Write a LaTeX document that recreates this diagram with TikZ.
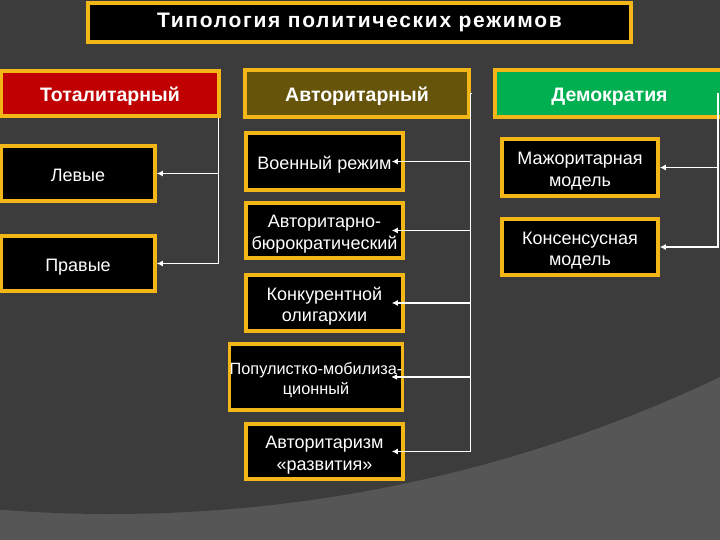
\documentclass[tikz,border=0pt]{standalone}
\usepackage{fontspec}
\setmainfont{Liberation Sans}
\newfontfamily\titlefont[LetterSpace=8]{Liberation Sans}
\usetikzlibrary{arrows.meta}
\definecolor{bgdark}{RGB}{60,60,60}
\definecolor{bglight}{RGB}{86,86,86}
\definecolor{gold}{RGB}{242,182,22}
\definecolor{totred}{RGB}{192,0,0}
\definecolor{autolive}{RGB}{102,84,10}
\definecolor{demgreen}{RGB}{0,176,80}
\newcommand\mltop{\rule{0pt}{1.08em}}
\tikzset{
  box/.style={draw=gold, line width=3.6pt, fill=black, text=white, inner sep=0pt,
    align=center, font=\fontsize{18}{21.5}\selectfont},
  onebox/.style={box,
    execute at begin node={\rule{0pt}{1.05em}},
    execute at end node={\rule[-0.2em]{0pt}{0pt}}},
  headbox/.style={onebox, font=\bfseries\fontsize{19.5}{22}\selectfont},
  conn/.style={draw=white, line width=1.2pt, -{Latex[length=6pt,width=6pt]}},
}
\begin{document}
\begin{tikzpicture}[x=1pt,y=-1pt]
\useasboundingbox (0,0) rectangle (720,540);
\clip (0,0) rectangle (720,540);
% background
\fill[bglight] (0,0) rectangle (720,540);
\fill[bgdark] (111,-904) circle (1418);

% title
\node[draw=gold, line width=3.6pt, fill=black, text=white, inner sep=0pt,
  font=\titlefont\bfseries\fontsize{21}{24}\selectfont, minimum width=543pt, minimum height=39pt]
  (title) at (359.5,22.5) {Типология политических режимов};

% column heads
\node[headbox, fill=totred, minimum width=218pt, minimum height=45pt] (tot) at (110,93.5) {Тоталитарный};
\node[headbox, fill=autolive, minimum width=224pt, minimum height=47pt] (avt) at (357,93.5) {Авторитарный};
\node[headbox, fill=demgreen, minimum width=229pt, minimum height=47pt] (dem) at (609.5,93.5) {Демократия};

% totalitarian children
\node[onebox, minimum width=154pt, minimum height=55pt] (lev) at (78,173.5) {Левые};
\node[onebox, minimum width=154pt, minimum height=55pt] (prav) at (78,263.5) {Правые};

% authoritarian children
\node[onebox, minimum width=157pt, minimum height=57pt] (voen) at (324.5,161.5) {Военный режим};
\node[box, minimum width=157pt, minimum height=55pt] (bur) at (324.5,230.5) {\mltop Авторитарно-\\бюрократический};
\node[box, minimum width=157pt, minimum height=56pt] (konk) at (324.5,303) {\mltop Конкурентной\\олигархии};
\node[box, font=\fontsize{16.3}{20}\selectfont, minimum width=172pt, minimum height=66pt] (pop) at (316,377) {\rule{0pt}{1.1em}Популистко-мобилиза-\\ционный};
\node[box, minimum width=157pt, minimum height=55pt] (razv) at (324.5,451.5) {\mltop Авторитаризм\\«развития»};

% democracy children
\node[box, minimum width=156pt, minimum height=57pt] (maj) at (580,167.5) {\mltop Мажоритарная\\модель};
\node[box, minimum width=156pt, minimum height=56pt] (kons) at (580,247) {\mltop Консенсусная\\модель};

% connectors
\draw[conn] ([xshift=-2pt]tot.south east) |- (lev.east);
\draw[conn] ([xshift=-2pt]tot.south east) |- (prav.east);

\coordinate (aj) at (470.5,93.5);
\draw[draw=white, line width=1.2pt] (avt.east) -- (aj);
\foreach \n in {voen,bur,konk,pop,razv}{
  \draw[conn] (aj) |- ([xshift=-13pt]\n.east);
}

\coordinate (dj) at (718,93.5);
\draw[conn] (dj) |- (maj.east);
\draw[conn] (dj) |- (kons.east);
\end{tikzpicture}
\end{document}
